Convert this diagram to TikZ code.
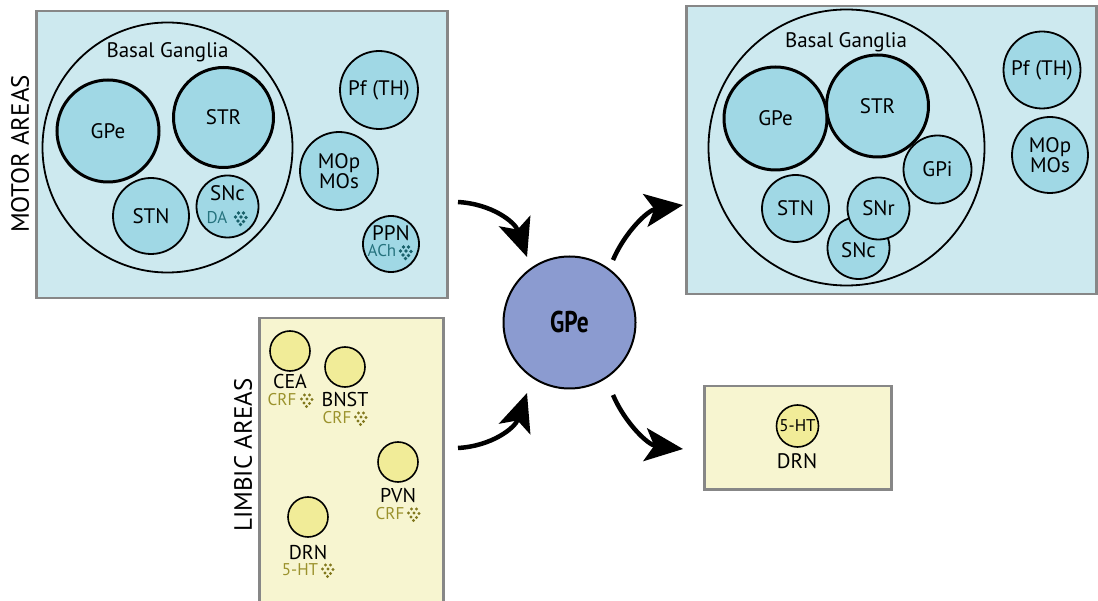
\documentclass[tikz,border=0pt]{standalone}
\usepackage{fontspec}
\setmainfont{PT Sans}
\usetikzlibrary{arrows.meta}
\definecolor{motorbg}{RGB}{205,233,239}
\definecolor{motorcirc}{RGB}{160,216,229}
\definecolor{limbbg}{RGB}{247,245,208}
\definecolor{limbcirc}{RGB}{241,236,152}
\definecolor{boxline}{RGB}{135,135,135}
\definecolor{gpecol}{RGB}{139,155,208}
\definecolor{tealtxt}{RGB}{38,115,126}
\definecolor{tealdot}{RGB}{24,96,106}
\definecolor{olivetxt}{RGB}{155,146,45}
\definecolor{olivedot}{RGB}{130,120,30}
\tikzset{
  areabox/.style={draw=boxline, line width=2.5pt},
  motorbox/.style={areabox, fill=motorbg},
  limbbox/.style={areabox, fill=limbbg},
  bgcirc/.style={circle, draw=black, line width=1.8pt, inner sep=0pt},
  mthin/.style={circle, draw=black, line width=1.8pt, fill=motorcirc, inner sep=0pt, font=\fontsize{21}{22}\selectfont, align=center},
  mthick/.style={mthin, line width=3pt},
  ycirc/.style={circle, draw=black, line width=1.6pt, fill=limbcirc, inner sep=0pt, minimum size=40pt},
  lbl/.style={inner sep=0pt, font=\fontsize{21}{23}\selectfont},
  smallteal/.style={inner sep=0pt, font=\fontsize{17}{19}\selectfont, text=tealtxt},
  smallolive/.style={inner sep=0pt, font=\fontsize{17}{19}\selectfont, text=olivetxt},
  areatitle/.style={inner sep=0pt, font=\fontsize{25}{27}\selectfont, rotate=90},
  bigarrow/.style={line width=4.5pt, -{Stealth[length=38pt, width=33pt, inset=9pt]}},
  tealdots/.pic={\foreach \p in {(-2.5,-5),(2.5,-5),(-5.5,-1),(0,-1),(5,-0.5),(-3,3),(2.5,3.5),(-0.5,6.5)} \fill[tealdot] \p circle (1.8pt);},
  olivedots/.pic={\foreach \p in {(-2.5,-5),(2.5,-5),(-5.5,-1),(0,-1),(5,-0.5),(-3,3),(2.5,3.5),(-0.5,6.5)} \fill[olivedot] \p circle (1.7pt);}
}
\begin{document}
\begin{tikzpicture}[x=1pt, y=-1pt]
\useasboundingbox (0,0) rectangle (1098,601);

% ---------- left motor box ----------
\node[motorbox, minimum width=411pt, minimum height=287pt, anchor=north west] (motor) at (35,10) {};
\node[areatitle] (motorT) at (20,154) {MOTOR AREAS};
\node[bgcirc, minimum size=250pt] (bgL) at (167.5,147.5) {};
\node[lbl] (bgLT) at (167.5,52) {Basal Ganglia};
\node[mthick, minimum size=102pt] (gpeL) at (108,131) {GPe};
\node[mthick, minimum size=100pt] (strL) at (223.5,117.5) {STR};
\node[mthin, minimum size=76pt] (stnL) at (151,216) {STN};
\node[mthin, minimum size=62pt] (sncL) at (227.5,206.5) {};
\node[lbl] (sncLT) at (227.5,193) {SNc};
\node[smallteal] (sncDA) at (217,218) {DA};
\pic at (241,218) {tealdots};
\node[mthin, minimum size=78pt] (pfL) at (379,90) {Pf (TH)};
\node[mthin, minimum size=78pt] (moL) at (339,171) {MOp\\[-2pt]MOs};
\node[mthin, minimum size=56pt] (ppnL) at (391,244) {};
\node[lbl] (ppnT) at (391,233) {PPN};
\node[smallteal] (ppnA) at (382,251) {ACh};
\pic at (406,252) {tealdots};

% ---------- limbic box ----------
\node[limbbox, minimum width=184pt, minimum height=300pt, anchor=north west] (limb) at (258,317) {};
\node[areatitle] (limbT) at (243,455) {LIMBIC AREAS};
\node[ycirc] (cea) at (290,351) {};
\node[lbl, font=\fontsize{20}{22}\selectfont] (ceaT) at (290,382) {CEA};
\node[smallolive] (ceaC) at (282,400) {CRF};
\pic at (307,400) {olivedots};
\node[ycirc] (bnst) at (345,367) {};
\node[lbl, font=\fontsize{20}{22}\selectfont] (bnstT) at (345,400) {BNST};
\node[smallolive] (bnstC) at (337,418) {CRF};
\pic at (361,418) {olivedots};
\node[ycirc] (pvn) at (398,462) {};
\node[lbl, font=\fontsize{20}{22}\selectfont] (pvnT) at (398,495) {PVN};
\node[smallolive] (pvnC) at (390,514) {CRF};
\pic at (414,514) {olivedots};
\node[ycirc] (drn) at (308,517) {};
\node[lbl, font=\fontsize{20}{22}\selectfont] (drnT) at (308,552) {DRN};
\node[smallolive] (drnC) at (300,570) {5-HT};
\pic at (328,570) {olivedots};

% ---------- central GPe ----------
\node[circle, draw=black, line width=2pt, fill=gpecol, minimum size=132pt, inner sep=0pt,
      font=\fontsize{30}{32}\selectfont\bfseries] (gpeC) at (569.5,322.5) {\scalebox{0.78}[1]{GPe}};

% ---------- right motor box ----------
\node[motorbox, minimum width=410pt, minimum height=288pt, anchor=north west] (motorR) at (685,5) {};
\node[bgcirc, minimum size=276pt] (bgR) at (846.5,147.5) {};
\node[lbl] (bgRT) at (846,42) {Basal Ganglia};
\node[mthick, minimum size=103pt] (gpeR) at (775.5,118.5) {GPe};
\node[mthick, minimum size=102pt] (strR) at (877.5,106) {STR};
\node[mthin, minimum size=68pt] (gpiR) at (937.5,169.5) {GPi};
\node[mthin, minimum size=67pt] (stnR) at (795.5,208.5) {STN};
\node[mthin, minimum size=62pt] (sncR) at (858.5,248) {};
\node[lbl] (sncRT) at (858.5,250) {SNc};
\node[mthin, minimum size=62pt] (snrR) at (878.5,208.5) {SNr};
\node[mthin, minimum size=77pt] (pfR) at (1042,70) {Pf (TH)};
\node[mthin, minimum size=76pt] (moR) at (1050,155) {MOp\\[-2pt]MOs};

% ---------- DRN box ----------
\node[limbbox, minimum width=187pt, minimum height=103pt, anchor=north west] (drnbox) at (703,385) {};
\node[circle, draw=black, line width=1.6pt, fill=limbcirc, minimum size=42pt, inner sep=0pt,
      font=\fontsize{17}{19}\selectfont] (drnR) at (797.5,426) {5-HT};
\node[lbl] (drnRT) at (797,461) {DRN};

% ---------- arrows ----------
\coordinate (a1s) at (458,202);
\coordinate (a1e) at (527,257);
\coordinate (a2s) at (458,448);
\coordinate (a2e) at (527,393);
\coordinate (a3s) at (613,260);
\coordinate (a3e) at (683,205);
\coordinate (a4s) at (613,395);
\coordinate (a4e) at (683,449);
\draw[bigarrow] (a1s) .. controls (492,204) and (515,222) .. (a1e);
\draw[bigarrow] (a2s) .. controls (492,446) and (515,428) .. (a2e);
\draw[bigarrow] (a3s) .. controls (625,232) and (648,210) .. (a3e);
\draw[bigarrow] (a4s) .. controls (625,423) and (648,445) .. (a4e);
\end{tikzpicture}
\end{document}
